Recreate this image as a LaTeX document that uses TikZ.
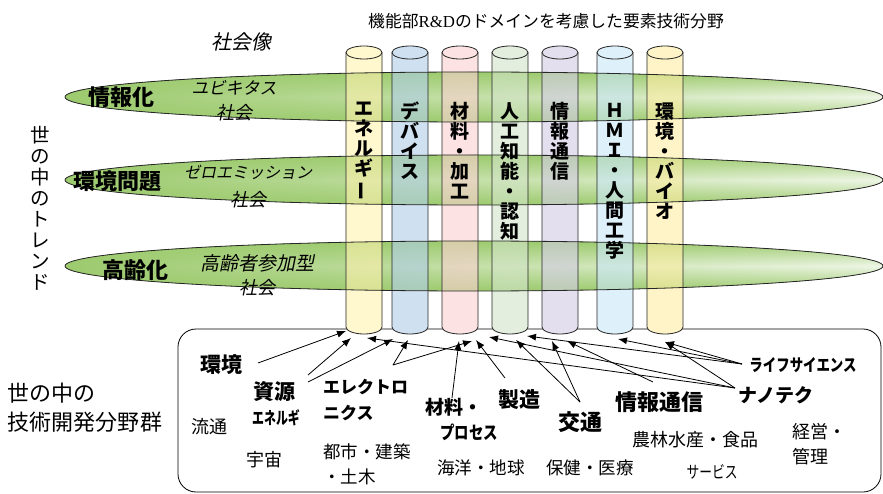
\documentclass[tikz,border=0pt]{standalone}
\usepackage{graphicx}
\usepackage{fontspec}
\setmainfont{Noto Sans CJK JP}
\newfontfamily\jpit[FakeSlant=0.2]{Noto Sans CJK JP}
\newfontfamily\rdserif{Liberation Serif}
\usetikzlibrary{arrows.meta,fadings}
\definecolor{bandg}{HTML}{9DCB6E}
\definecolor{bandl}{HTML}{EEF6E6}
\definecolor{cyA}{HTML}{FFF2AD}
\definecolor{cyB}{HTML}{AFCDE9}
\definecolor{cyC}{HTML}{FAD0D0}
\definecolor{cyD}{HTML}{D2E4C8}
\definecolor{cyE}{HTML}{D2CBE4}
\definecolor{cyF}{HTML}{C8E6F8}
\definecolor{cyG}{HTML}{FFEEA3}
\newcommand{\fsz}[1]{\fontsize{#1}{#1}\selectfont}
\newcommand{\nrw}[2]{\scalebox{#1}[1]{#2}}
\newcommand{\vbar}{\rotatebox[origin=c]{90}{ー}}
\tikzfading[name=bandfade, left color=transparent!0, middle color=transparent!100, right color=transparent!100]
\begin{document}
\begin{tikzpicture}[x=1pt,y=-1pt,
  lbl/.style={inner sep=0pt, outer sep=0pt},
  cyltxt/.style={inner sep=0pt, outer sep=0pt, align=center, font=\bfseries\fontsize{19}{20}\selectfont},
  arr/.style={-{Latex[length=9pt,width=7pt]}, line width=0.8pt},
  bandline/.style={line width=0.8pt, draw=black!85},
  cylline/.style={line width=0.8pt, draw=black!85}]
\useasboundingbox (0,0) rectangle (883,494);
\fill[white] (0,0) rectangle (883,494);

% bottom box
\draw[line width=0.8pt, rounded corners=18pt] (178,329) rectangle (881,492);

% bands
\foreach \yy in {97,180,266}{
  \fill[top color=bandg, bottom color=bandg, middle color=bandl] (474,\yy) ellipse [x radius=409, y radius=25];
  \fill[bandg, path fading=bandfade] (474,\yy) ellipse [x radius=409, y radius=25];
}

% cylinders fill
\foreach \cx/\col in {364/cyA,410/cyB,460/cyC,510/cyD,560/cyE,615/cyF,665/cyG}{
  \fill[white] (\cx-18,300) -- (\cx-18,327) arc[start angle=180, end angle=0, x radius=18, y radius=7] -- (\cx+18,300) -- cycle;
  \fill[\col, fill opacity=0.6] (\cx-18,52.5) -- (\cx-18,327) arc[start angle=180, end angle=0, x radius=18, y radius=7] -- (\cx+18,52.5) arc[start angle=0, end angle=-180, x radius=18, y radius=6.5] -- cycle;
}
% band outlines
\foreach \yy in {97,180,266}{
  \draw[bandline] (474,\yy) ellipse [x radius=409, y radius=25];
}
% cylinder outlines
\foreach \cx in {364,410,460,510,560,615,665}{
  \draw[cylline] (\cx-18,52.5) -- (\cx-18,327) arc[start angle=180, end angle=0, x radius=18, y radius=7] -- (\cx+18,52.5);
  \draw[cylline] (\cx,52.5) ellipse [x radius=18, y radius=6.5];
}

% cylinder texts (vertical)
\node[cyltxt] (cA) at (364,151) {エ\\ネ\\ル\\ギ\\\vbar};
\node[cyltxt] (cB) at (410,141) {デ\\バ\\イ\\ス};
\node[cyltxt] (cC) at (460,151) {材\\料\\・\\加\\工};
\node[cyltxt] (cD) at (510,171) {人\\工\\知\\能\\・\\認\\知};
\node[cyltxt] (cE) at (560,141) {情\\報\\通\\信};
\node[cyltxt] (cF) at (615,181) {Ｈ\\Ｍ\\Ｉ\\・\\人\\間\\工\\学};
\node[cyltxt] (cG) at (665,161) {環\\境\\・\\バ\\イ\\オ};

% top texts
\node[lbl, font=\fsz{16.8}] (title) at (546,21) {機能部{\rdserif R\&D}のドメインを考慮した要素技術分野};
\node[lbl, font=\jpit\fsz{20}] (shakaizo) at (241,42) {社会像};

% band labels
\node[lbl, font=\bfseries\fsz{22}] (jh) at (121,97) {情報化};
\node[lbl, font=\jpit\fsz{17}] (ubi1) at (234,88) {ユビキタス};
\node[lbl, font=\jpit\fsz{18}] (ubi2) at (234,113) {社会};
\node[lbl, font=\bfseries\fsz{22}] (kk) at (117,181) {環境問題};
\node[lbl, font=\jpit\fsz{16}] (zero1) at (248,172) {ゼロエミッション};
\node[lbl, font=\jpit\fsz{18}] (zero2) at (248,200) {社会};
\node[lbl, font=\bfseries\fsz{22}] (kr) at (135,270) {高齢化};
\node[lbl, font=\jpit\fsz{19}] (kr1) at (257,263) {高齢者参加型};
\node[lbl, font=\jpit\fsz{18}] (kr2) at (257,288) {社会};

% vertical trend label
\node[lbl, align=center, font=\fontsize{19.5}{21}\selectfont] (trend) at (40,208.5) {世\\の\\中\\の\\ト\\レ\\ン\\ド};

% left tech label
\node[lbl, font=\fontsize{22}{29}\selectfont, align=left, anchor=west] (tech) at (8,407.5) {世の中の\\技術開発分野群};

% bottom labels
\node[lbl, font=\bfseries\fsz{21}] (kankyo) at (221,365) {環境};
\node[lbl, font=\bfseries\fsz{21}] (shigen) at (274,392) {資源};
\node[lbl, font=\bfseries\fsz{17}] (energ) at (276,418) {\nrw{0.7}{エネルギ}};
\node[lbl, font=\bfseries\fontsize{17}{26}\selectfont, align=left, anchor=west] (elec) at (323,400) {エレクトロ\\ニクス};
\node[lbl, font=\fsz{18}] (ryutsu) at (209,427) {流通};
\node[lbl, font=\fsz{18}] (uchu) at (264,460) {宇宙};
\node[lbl, font=\fontsize{17.5}{25}\selectfont, align=left, anchor=west] (toshi) at (323,464.5) {都市・建築\\・土木};
\node[lbl, font=\bfseries\fsz{19}, anchor=west] (zairyo) at (425,407) {材料・};
\node[lbl, font=\bfseries\fsz{18}] (process) at (469,432) {\nrw{0.8}{プロセス}};
\node[lbl, font=\bfseries\fsz{21}] (seizo) at (519,400) {製造};
\node[lbl, font=\fsz{17.5}] (kaiyo) at (481,468) {海洋・地球};
\node[lbl, font=\bfseries\fsz{22}] (kotsu) at (580,422) {交通};
\node[lbl, font=\fsz{17.5}] (hoken) at (590,468) {保健・医療};
\node[lbl, font=\bfseries\fsz{22}] (joho) at (659,402) {情報通信};
\node[lbl, font=\fsz{18}] (norin) at (695,440) {農林水産・食品};
\node[lbl, font=\fsz{17}] (service) at (712,472) {\nrw{0.75}{サービス}};
\node[lbl, font=\bfseries\fsz{19}] (nano) at (776,395) {ナノテク};
\node[lbl, font=\bfseries\fsz{17}] (life) at (803,365) {\nrw{0.79}{ライフサイエンス}};
\node[lbl, font=\fontsize{18}{25}\selectfont, align=left, anchor=west] (keiei) at (792,444.5) {経営・\\管理};

% arrow endpoints
\coordinate (sKankyo) at (258,363);
\coordinate (sShigenA) at (308,375);
\coordinate (sShigenB) at (308,382);
\coordinate (sElec) at (393,365);
\coordinate (sZairyo) at (452,398);
\coordinate (sSeizo) at (505,378);
\coordinate (sKotsu) at (580,402);
\coordinate (sJoho) at (653,382);
\coordinate (sNano) at (735,388);
\coordinate (sLife) at (742,364);
\coordinate (tA1) at (346,331);
\coordinate (tA2) at (351,338);
\coordinate (tA3) at (367,338);
\coordinate (tB1) at (393,339);
\coordinate (tB2) at (408,340);
\coordinate (tC1) at (459,341);
\coordinate (tC2) at (472,341);
\coordinate (tC3) at (476,340);
\coordinate (tD0) at (489,337);
\coordinate (tD1) at (516,340);
\coordinate (tD2) at (527,336);
\coordinate (tE1) at (552,341);
\coordinate (tE2) at (567,341);
\coordinate (tF1) at (618,339);
\coordinate (tG1) at (665,342);

\draw[arr] (sKankyo) -- (tA1);
\draw[arr] (sShigenA) -- (tA2);
\draw[arr] (sShigenB) -- (tB1);
\draw[arr] (sElec) -- (tB2);
\draw[arr] (sElec) -- (tC2);
\draw[arr] (sZairyo) -- (tC1);
\draw[arr] (sSeizo) -- (tC3);
\draw[arr] (sNano) -- (tA3);
\draw[arr] (sNano) -- (tD0);
\draw[arr] (sKotsu) -- (tD1);
\draw[arr] (sKotsu) -- (tE1);
\draw[arr] (sJoho) -- (tE2);
\draw[arr] (sLife) -- (tD2);
\draw[arr] (sLife) -- (tF1);
\draw[arr] (sLife) -- (tG1);
\draw[arr] (sNano) -- (tG1);
\end{tikzpicture}
\end{document}
